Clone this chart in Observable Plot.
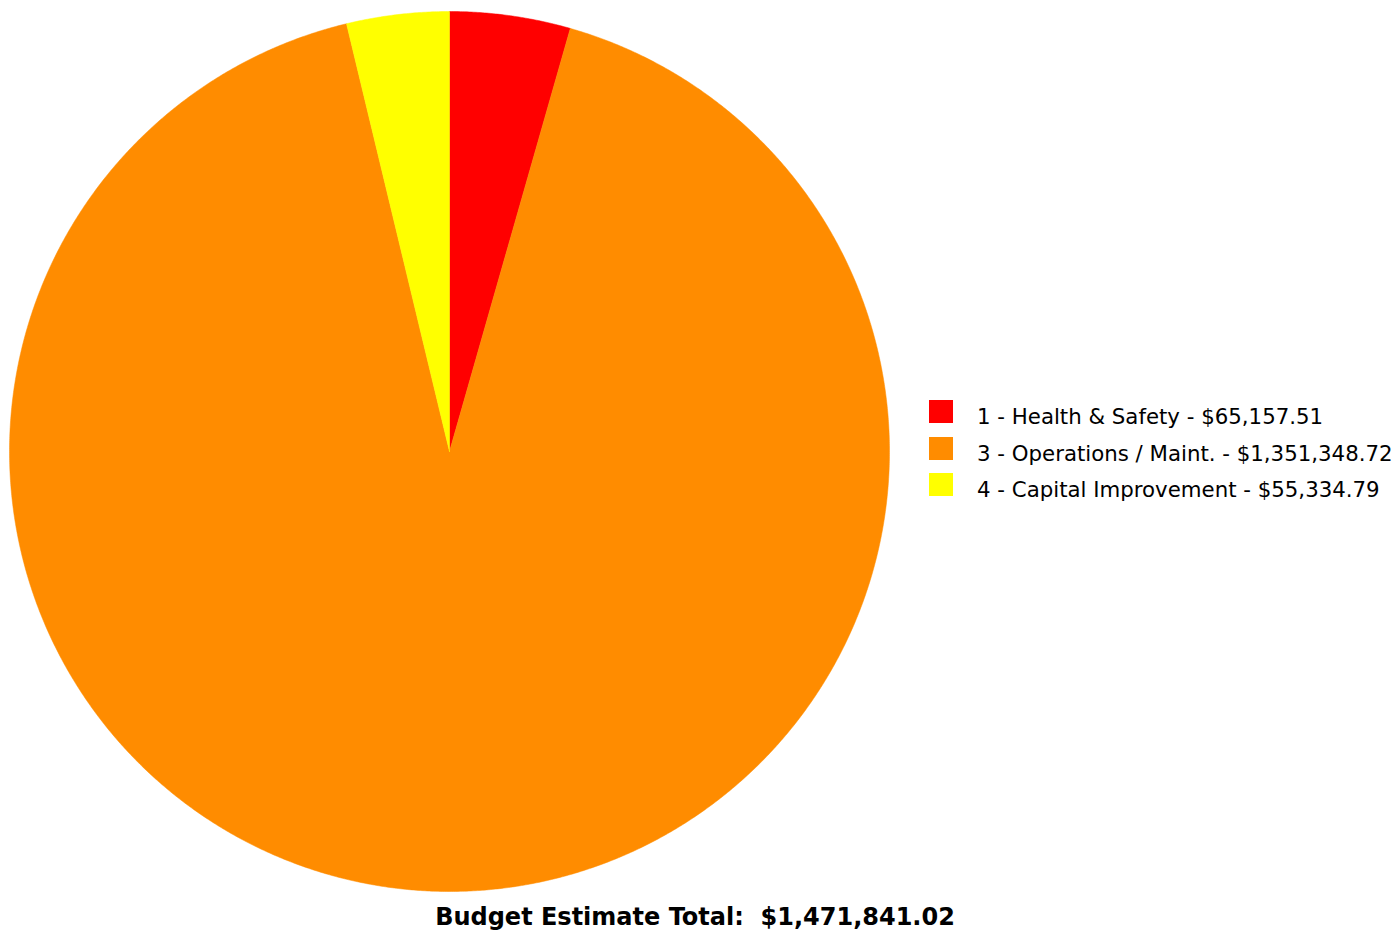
<!DOCTYPE html>
<html>
<head>
<meta charset="utf-8">
<script src="https://cdn.jsdelivr.net/npm/d3@7"></script>
<script src="https://cdn.jsdelivr.net/npm/@observablehq/plot@0.6"></script>
<style>
  html, body { margin: 0; padding: 0; background: #fff; }
  #wrap { position: relative; width: 1398px; height: 931px; font-family: "DejaVu Sans", Verdana, sans-serif; }
  #chart { position: absolute; left: 0; top: 0; }
  #legend { position: absolute; left: 929px; top: 400px; }
  .row { position: relative; height: 36.5px; }
  .sw { position: absolute; left: 0; top: 0; width: 24px; height: 23px; }
  .lb { position: absolute; left: 48px; top: 3px; font-size: 21.3px; color: #000; white-space: nowrap; line-height: 28px; }
  #caption { position: absolute; left: 0; width: 1390px; top: 902px; text-align: center; font-weight: bold; font-size: 24px; line-height: 30px; color: #000; white-space: nowrap; }
</style>
</head>
<body>
<div id="wrap">
  <div id="chart"></div>
  <div id="legend"></div>
  <div id="caption"></div>
</div>
<script>
const categories = ["1 - Health & Safety", "3 - Operations / Maint.", "4 - Capital Improvement"];
const values = [65157.51, 1351348.72, 55334.79];
const colors = ["#ff0000", "#ff8c00", "#ffff00"];
const captionLabel = "Budget Estimate Total:";

const total = d3.sum(values);
const fmt = v => "$" + d3.format(",.2f")(v);

// Pie angles from the values (clockwise from 12 o'clock)
const arcs = d3.pie().sort(null).value(d => d.value)(categories.map((c, i) => ({cat: c, value: values[i]})));

// Build each slice as a polygon in data space (unit circle), traced along the arc
const pts = [];
for (const a of arcs) {
  const n = Math.max(2, Math.ceil((a.endAngle - a.startAngle) / 0.005));
  pts.push({cat: a.data.cat, x: 0, y: 0});
  for (let k = 0; k <= n; k++) {
    const t = a.startAngle + (a.endAngle - a.startAngle) * k / n;
    pts.push({cat: a.data.cat, x: Math.sin(t), y: Math.cos(t)});
  }
  pts.push({cat: a.data.cat, x: 0, y: 0});
}

const plot = Plot.plot({
  width: 898,
  height: 902,
  marginLeft: 9, marginRight: 9, marginTop: 11, marginBottom: 11,
  x: {domain: [-1, 1], axis: null},
  y: {domain: [-1, 1], axis: null},
  color: {domain: categories, range: colors},
  marks: [
    Plot.line(pts, {x: "x", y: "y", z: "cat", fill: "cat", stroke: "cat", strokeWidth: 0.5, curve: "linear"})
  ]
});
document.getElementById("chart").appendChild(plot);

const legend = d3.select("#legend");
categories.forEach((c, i) => {
  const row = legend.append("div").attr("class", "row");
  row.append("div").attr("class", "sw").style("background", colors[i]);
  row.append("div").attr("class", "lb").text(c + " - " + fmt(values[i]));
});
d3.select("#caption").text(captionLabel + "\u00a0 " + fmt(total));
</script>
</body>
</html>
